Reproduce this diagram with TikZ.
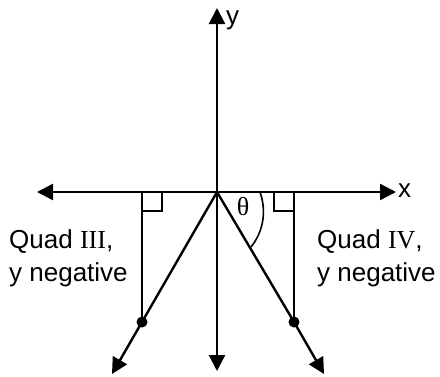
\documentclass[tikz,border=0pt]{standalone}
\usepackage{fontspec}
\setmainfont{Liberation Sans}
\newfontfamily\serifnum{Liberation Serif}
\usetikzlibrary{arrows.meta, positioning}

\begin{document}
\begin{tikzpicture}[
    x=1pt, y=-1pt,
    axis/.style={-{Triangle[length=16pt,width=16pt]}, line width=2.4pt},
    ray/.style={-{Triangle[length=16pt,width=16pt]}, line width=2.4pt},
    thin/.style={line width=1.6pt},
    dot/.style={circle, fill, inner sep=0pt, minimum size=11pt},
    lbl/.style={font=\fontsize{26}{33}\selectfont, inner sep=0pt},
    quad/.style={lbl, align=left},
]
\useasboundingbox (0,0) rectangle (440,376);

% Axes
\coordinate (o) at (217,192);
\coordinate (xl) at (37,192);
\coordinate (xr) at (396,192);
\coordinate (yt) at (217,8);
\coordinate (yb) at (217,371);
\draw[axis] (o) -- (xl);
\draw[axis] (o) -- (xr);
\draw[axis] (o) -- (yt);
\draw[axis] (o) -- (yb);
\node[lbl, anchor=west] (xlab) at (398,191) {x};
\node[lbl, anchor=west] (ylab) at (226,20) {y};

% Terminal points
\node[dot] (p3) at (142,322) {};
\node[dot] (p4) at (294,322) {};
\coordinate (e3) at (112,374);
\coordinate (e4) at (324,374);
\coordinate (f3) at (142,192);
\coordinate (f4) at (294,192);

% Rays
\draw[ray] (o) -- (p3.center) -- (e3);
\draw[ray] (o) -- (p4.center) -- (e4);

% Perpendiculars with right angle marks
\draw[thin] (f3) -- (p3.center);
\draw[thin] (f4) -- (p4.center);
\draw[thin] ([yshift=-19pt]f3) -| ([xshift=20pt]f3);
\draw[thin] ([yshift=-19pt]f4) -| ([xshift=-20pt]f4);

% Angle
\draw[thin] (260,192) .. controls (267,212) and (263,232) .. (251,247);
\node[lbl] (theta) at (243,207) {\serifnum θ};

% Quadrant labels
\node[quad, anchor=west] (q3) at (9,258) {Quad {\serifnum III},\\y negative};
\node[quad, anchor=west] (q4) at (317,258) {Quad {\serifnum IV},\\y negative};

\end{tikzpicture}
\end{document}
